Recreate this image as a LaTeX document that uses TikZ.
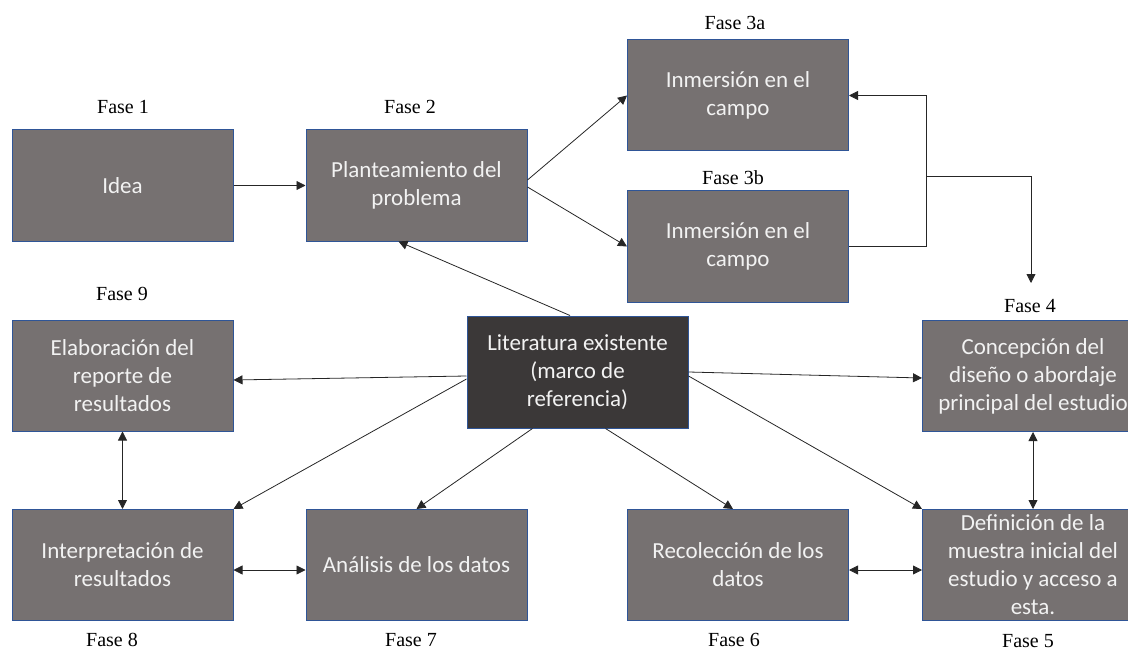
\documentclass[tikz,border=0pt]{standalone}
\usepackage{fontspec}
\setmainfont{Liberation Serif}
\newfontfamily\boxfont{Carlito}
\usetikzlibrary{arrows.meta}
\definecolor{boxfill}{HTML}{767171}
\definecolor{darkfill}{HTML}{3B3838}
\definecolor{boxline}{HTML}{2F5597}
\definecolor{boxtext}{HTML}{F2F2F2}
\definecolor{linkcol}{HTML}{262626}
\begin{document}
\begin{tikzpicture}[x=1pt,y=-1pt,
  phase/.style={draw=boxline,line width=1pt,fill=boxfill,text=boxtext,
    minimum width=221pt,minimum height=111pt,inner sep=0pt,align=center,
    font=\boxfont\fontsize{23}{28}\selectfont},
  corebox/.style={phase,fill=darkfill,minimum height=112pt},
  fase/.style={anchor=base,font=\fontsize{20}{24}\selectfont,text=black},
  arr/.style={draw=linkcol,line width=0.8pt,-{Triangle[length=9pt,width=9pt]}},
  biarr/.style={draw=linkcol,line width=0.8pt,{Triangle[length=9pt,width=9pt]}-{Triangle[length=9pt,width=9pt]}},
  link/.style={draw=linkcol,line width=0.8pt}]
\useasboundingbox (0,0) rectangle (1128,658);

% phase boxes
\node[phase] (idea) at (122.5,185.5) {Idea};
\node[phase] (plan) at (416.5,185.5) {Planteamiento del\\problema};
\node[phase] (f3a) at (738,95.5) {Inmersión en el\\campo};
\node[phase] (f3b) at (738,246.5) {Inmersión en el\\campo};
\node[phase] (f9) at (122.5,375.5) {Elaboración del\\reporte de\\resultados};
\node[corebox] (lit) at (577.5,372) {Literatura existente\\(marco de\\referencia)};
\node[phase] (f4) at (1033,376) {Concepción del\\diseño o abordaje\\principal del estudio};
\node[phase] (f8) at (122.5,565) {Interpretación de\\resultados};
\node[phase] (f7) at (416.5,565) {Análisis de los datos};
\node[phase] (f6) at (738,565) {Recolección de los\\datos};
\node[phase] (f5) at (1033,565) {Definición de la\\muestra inicial del\\estudio y acceso a\\esta.};

% phase labels
\node[fase] (l1) at (123,114) {Fase 1};
\node[fase] (l2) at (410,114) {Fase 2};
\node[fase] (l3a) at (735,30) {Fase 3a};
\node[fase] (l3b) at (733,185) {Fase 3b};
\node[fase] (l9) at (122,300) {Fase 9};
\node[fase] (l4) at (1030,312) {Fase 4};
\node[fase] (l8) at (112,646) {Fase 8};
\node[fase] (l7) at (411,646) {Fase 7};
\node[fase] (l6) at (734,646) {Fase 6};
\node[fase] (l5) at (1028,647) {Fase 5};

% top row
\draw[arr] (idea.east) -- (plan.west);
\draw[arr] ([yshift=5.5pt]plan.east) -- (f3a.west);
\draw[arr] ([yshift=-1.5pt]plan.east) -- (f3b.west);

% bracket joining the two field phases and leading to phase 4
\coordinate (ja) at (926,95.5);
\coordinate (jm) at (926,176);
\coordinate (jd) at (1031,283);
\draw[arr] (f3b.east) -| (ja) -- (f3a.east);
\draw[arr] (jm) -| (jd);

% links from the literature box
\draw[arr] ([xshift=-7.5pt]lit.north) -- ([xshift=-18pt]plan.south);
\draw[arr] ([yshift=-4pt]lit.west) -- ([yshift=-4.5pt]f9.east);
\draw[arr] ([yshift=-7pt]lit.west) -- (f8.north east);
\draw[arr] ([xshift=-45pt]lit.south) -- (f7.north);
\draw[arr] ([xshift=28pt]lit.south) -- ([xshift=-5pt]f6.north);
\draw[arr] (lit.east) -- ([yshift=-2pt]f4.west);
\draw[arr] ([yshift=-4pt]lit.east) -- (f5.north west);

% two-way links between neighbouring phases
\draw[biarr] (f9.south) -- (f8.north);
\draw[biarr] ([yshift=-5pt]f8.east) -- ([yshift=-5pt]f7.west);
\draw[biarr] ([yshift=-5pt]f6.east) -- ([yshift=-5pt]f5.west);
\draw[biarr] (f4.south) -- (f5.north);
\end{tikzpicture}
\end{document}
